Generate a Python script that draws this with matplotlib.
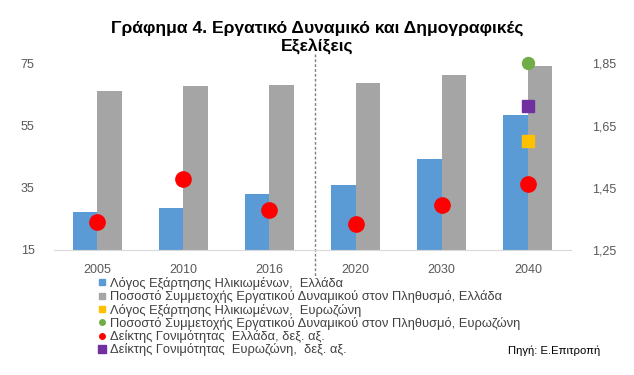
import numpy as np
import matplotlib
matplotlib.use('Agg')
import matplotlib.pyplot as plt
from matplotlib.lines import Line2D
import matplotlib.transforms as mtransforms

plt.rcParams['font.family'] = ['Liberation Sans', 'DejaVu Sans']

# Data
years = ['2005', '2010', '2016', '2020', '2030', '2040']
dep_gr = [27.2, 28.4, 32.9, 35.8, 44.3, 58.3]          # left axis
part_gr = [66.2, 67.8, 68.2, 68.8, 71.3, 74.2]         # left axis
fert_gr = [1.339, 1.478, 1.379, 1.333, 1.396, 1.461]   # right axis
dep_ez_2040 = 50.0      # left axis, 2040 only
part_ez_2040 = 1.85     # drawn on right axis scale (75 on left)
fert_ez_2040 = 1.713    # right axis

labels = ['Λόγος Εξάρτησης Ηλικιωμένων,  Ελλάδα',
          'Ποσοστό Συμμετοχής Εργατικού Δυναμικού στον Πληθυσμό, Ελλάδα',
          'Λόγος Εξάρτησης Ηλικιωμένων,  Ευρωζώνη',
          'Ποσοστό Συμμετοχής Εργατικού Δυναμικού στον Πληθυσμό, Ευρωζώνη',
          'Δείκτης Γονιμότητας  Ελλάδα, δεξ. αξ.',
          'Δείκτης Γονιμότητας  Ευρωζώνη,  δεξ. αξ.']

BLUE, GRAY, YELLOW, GREEN, RED, PURPLE = '#5B9BD5', '#A5A5A5', '#FFC000', '#70AD47', '#FF0000', '#7030A0'
TICK = '#595959'

fig = plt.figure(figsize=(6.34, 3.75), dpi=100)
ax = fig.add_axes([54 / 634, 125 / 375, 517 / 634, 186.6 / 375])
ax2 = ax.twinx()

x = np.arange(len(years))
w = 0.285
ax.bar(x - w / 2, dep_gr, w, color=BLUE, zorder=2)
ax.bar(x + w / 2, part_gr, w, color=GRAY, zorder=2)
ax.plot([x[-1]], [dep_ez_2040], 's', color=YELLOW, ms=8.6, zorder=3)

ax2.plot(x, fert_gr, 'o', color=RED, ms=11, linestyle='none')
ax2.plot([x[-1]], [part_ez_2040], 'o', color=GREEN, ms=8.6, clip_on=False)
ax2.plot([x[-1]], [fert_ez_2040], 's', color=PURPLE, ms=8.6)

ax.set_xlim(-0.5, 5.5)
ax.set_ylim(15, 75)
ax.set_yticks([15, 35, 55, 75])
ax2.set_ylim(1.25, 1.85)
ax2.set_yticks([1.25, 1.45, 1.65, 1.85])
ax2.set_yticklabels(['1,25', '1,45', '1,65', '1,85'])
ax.set_xticks(x)
ax.set_xticklabels(years)

for a in (ax, ax2):
    for s in a.spines.values():
        s.set_visible(False)
    a.tick_params(length=0, labelsize=9, colors=TICK)
ax.spines['bottom'].set_visible(True)
ax.spines['bottom'].set_color('#D9D9D9')
ax.tick_params(axis='x', pad=10)
ax.tick_params(axis='y', pad=14)
ax2.tick_params(axis='y', pad=15)

# dotted separator between history and projections
trans = mtransforms.blended_transform_factory(ax.transData, fig.transFigure)
ax.add_line(Line2D([2.529, 2.529], [1 - 54 / 375, 1 - 278 / 375], transform=trans,
                   color='#7F7F7F', linestyle=(0, (2, 1.5)), linewidth=1, clip_on=False))

fig.text(0.5, 1 - 38 / 375, 'Γράφημα 4. Εργατικό Δυναμικό και Δημογραφικές\nΕξελίξεις',
         ha='center', va='center', fontsize=12.6, fontweight='bold', linespacing=1.25)

handles = [Line2D([], [], marker='s', color=BLUE, ls='none', ms=4),
           Line2D([], [], marker='s', color=GRAY, ls='none', ms=4),
           Line2D([], [], marker='s', color=YELLOW, ls='none', ms=4),
           Line2D([], [], marker='o', color=GREEN, ls='none', ms=4),
           Line2D([], [], marker='o', color=RED, ls='none', ms=4),
           Line2D([], [], marker='s', color=PURPLE, ls='none', ms=6)]
leg = fig.legend(handles, labels, loc='upper left', bbox_to_anchor=(98 / 634, 1 - 277 / 375),
                 frameon=False, fontsize=9.3, labelspacing=0.02, handlelength=0.6,
                 handletextpad=0.3, borderpad=0, borderaxespad=0)
for t in leg.get_texts():
    t.set_color('#404040')

fig.text(508 / 634, 1 - 351 / 375, 'Πηγή: Ε.Επιτροπή', fontsize=8.1, va='center', color='black')

fig.savefig('out.png', dpi=100)
